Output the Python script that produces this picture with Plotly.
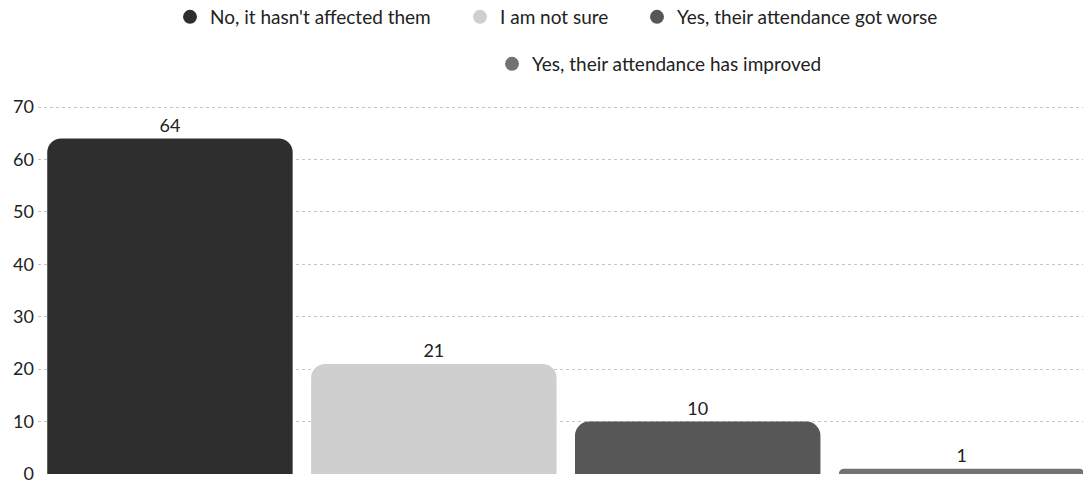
import plotly.graph_objects as go

# Survey responses: has the change affected attendance?
categories = [
    "No, it hasn't affected them",
    "I am not sure",
    "Yes, their attendance got worse",
    "Yes, their attendance has improved",
]
counts = [64, 21, 10, 1]
bar_colors = ["#2e2e2e", "#cfcfcf", "#575757", "#727272"]

y_ticks = [0, 10, 20, 30, 40, 50, 60, 70]

FONT = "Lato, 'Open Sans', sans-serif"
W, H = 1083, 484

# Legend slots: (legend id, left edge px, vertical centre px)
legend_slots = [
    ("legend", 170, 17),
    ("legend2", 460, 17),
    ("legend3", 637, 17),
    ("legend4", 492, 64),
]

fig = go.Figure()

# One bar per answer; value labels sit above the bars
fig.add_trace(go.Bar(
    x=list(range(len(categories))),
    y=counts,
    width=0.93,
    marker=dict(color=bar_colors, line=dict(width=0)),
    text=counts,
    texttemplate="%{text}",
    textposition="outside",
    textfont=dict(family=FONT, size=18, color="#222"),
    cliponaxis=False,
    showlegend=False,
    hoverinfo="skip",
))

# Circle legend entries, one per answer
for name, color, (lg, _, _) in zip(categories, bar_colors, legend_slots):
    fig.add_trace(go.Scatter(
        x=[None], y=[None], mode="markers",
        marker=dict(symbol="circle", size=14, color=color),
        name=name, legend=lg, showlegend=True,
    ))

legend_layout = {}
for lg, left, yc in legend_slots:
    legend_layout[lg] = dict(
        orientation="h", xref="container", yref="container",
        x=left / W, xanchor="left", y=1 - yc / H, yanchor="middle",
        font=dict(family=FONT, size=19, color="#222"),
        itemwidth=30, bgcolor="rgba(0,0,0,0)", borderwidth=0,
    )

fig.update_layout(
    width=W, height=H,
    margin=dict(l=38, r=0, t=106, b=8),
    paper_bgcolor="white",
    plot_bgcolor="white",
    font=dict(family=FONT, size=16, color="#222"),
    barcornerradius=14,
    showlegend=True,
    xaxis=dict(
        range=[-0.5, 3.46],
        showticklabels=False, showgrid=False, zeroline=False,
        showline=False, ticks="",
    ),
    yaxis=dict(
        range=[0, 70.2],
        tickvals=y_ticks,
        ticktext=[str(v) for v in y_ticks],
        showgrid=True, gridcolor="#c6c6c6", griddash="dot", gridwidth=1,
        zeroline=False, showline=False, ticks="",
        ticklabeloverflow="allow",
        ticklabelstandoff=3,
        tickfont=dict(family=FONT, size=18, color="#222"),
    ),
    **legend_layout,
)

fig.write_html("out.html")
